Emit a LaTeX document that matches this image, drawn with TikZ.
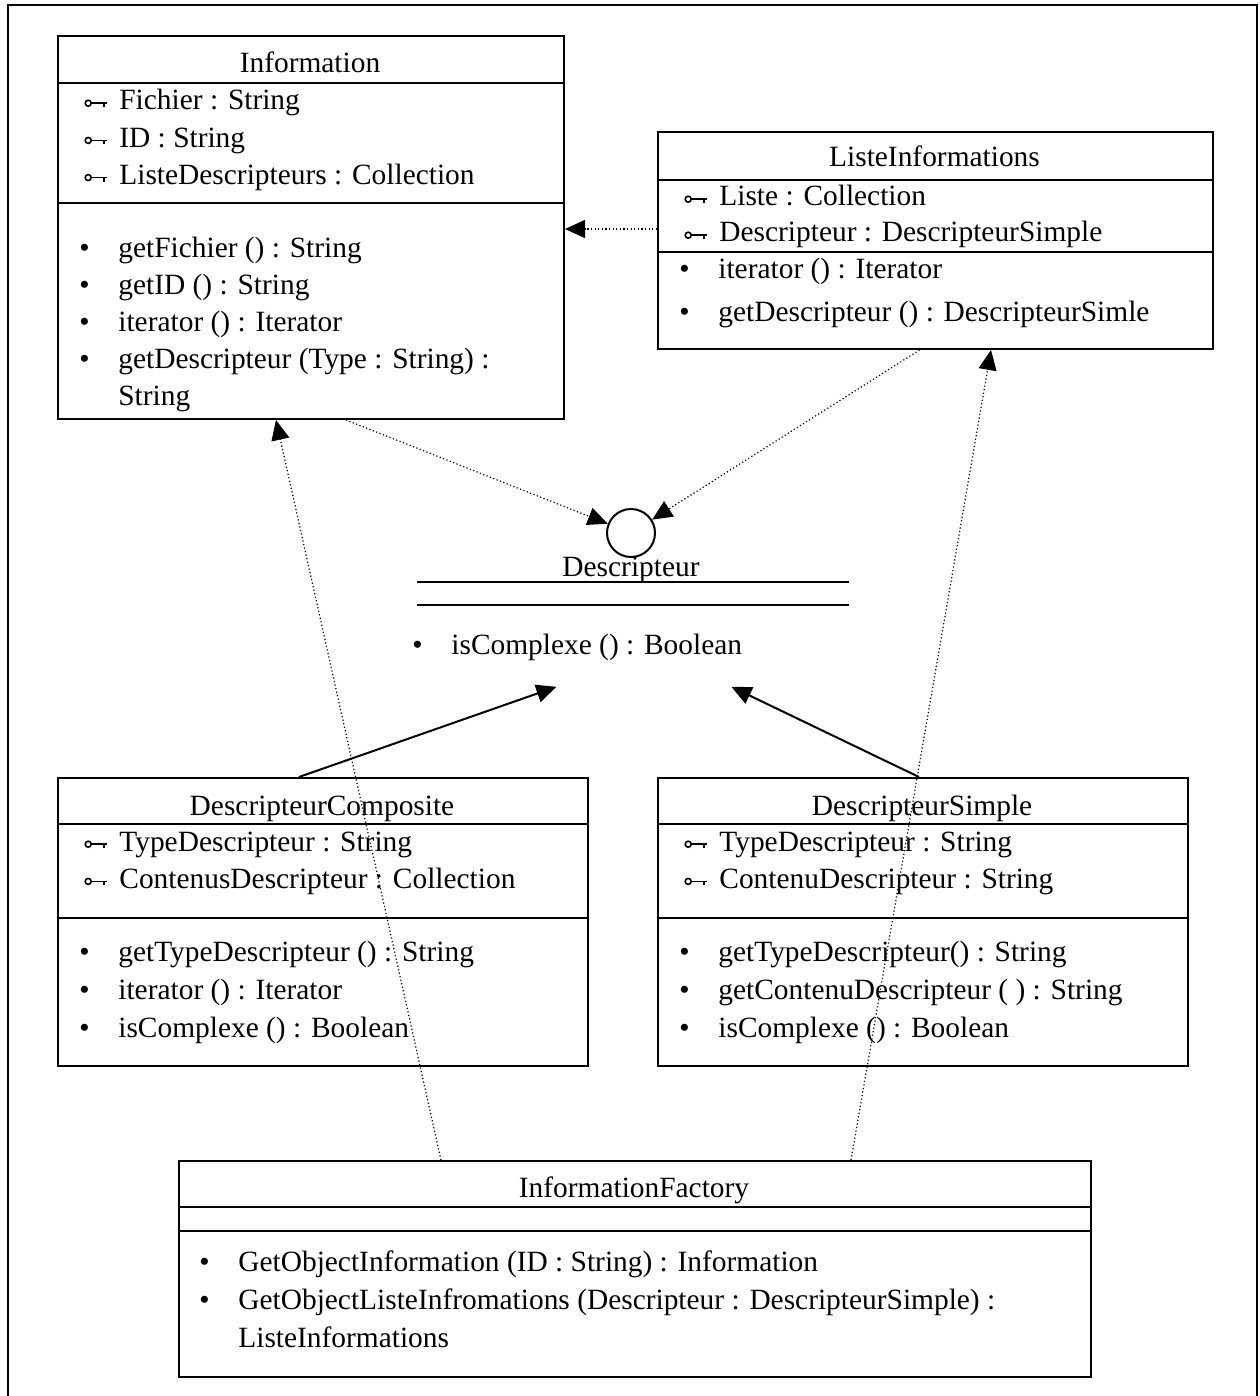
\documentclass[tikz,border=0pt]{standalone}
\usepackage{fontspec}
\setmainfont{Liberation Serif}
\usetikzlibrary{arrows.meta,positioning}
\newcommand{\keyicon}{\tikz[x=1pt,y=1pt,baseline=-3.4pt,line width=0.8pt]{%
  \draw (1.8,0) circle (1.5); \draw (3.3,0) -- (11,0) (9.8,0) -- (9.8,-2);}\hspace{6pt}}
\newcommand{\mth}[1]{\makebox[19.5pt][l]{\textbullet}#1}
\newcommand{\mcont}[1]{\hspace*{19.5pt}#1}

\begin{document}
\begin{tikzpicture}[x=0.5pt, y=-0.5pt,
  font=\fontsize{14.7}{18.6}\selectfont, >={Triangle[length=10pt,width=9pt]},
  cls/.style={draw, line width=1pt, anchor=north west, inner sep=0pt},
  sep/.style={line width=1pt},
  ttl/.style={inner sep=0pt, anchor=base},
  txt/.style={inner sep=0pt, anchor=base west, align=left},
  dep/.style={->, line width=0.6pt, dash pattern=on 0.6pt off 1.2pt},
  gen/.style={->, line width=1pt}]
\useasboundingbox (0,0) rectangle (1259,1396);
\draw[line width=1pt] (8,1396) |- (1257,5) -- (1257,1396);
% Information (text nodes are placed by the baseline of their last line)
\node[cls, minimum width=253pt, minimum height=191.5pt] (info) at (57,35) {};
\draw[sep] ([yshift=-24pt]info.north west) -- ([yshift=-24pt]info.north east);
\draw[sep] ([yshift=-84pt]info.north west) -- ([yshift=-84pt]info.north east);
\node[ttl] (infoT) at (310,73) {Information};
\node[txt] (infoA) at (84,184.4) {\keyicon Fichier : String\\\keyicon ID : String\\
  \keyicon ListeDescripteurs : Collection};
\node[txt] (infoM) at (79,405.8) {\mth{getFichier () : String}\\\mth{getID () : String}\\
  \mth{iterator () : Iterator}\\\mth{getDescripteur (Type : String) :}\\\mcont{String}};
% ListeInformations
\node[cls, minimum width=277.5pt, minimum height=108.5pt] (lst) at (657,131) {};
\draw[sep] ([yshift=-24.5pt]lst.north west) -- ([yshift=-24.5pt]lst.north east);
\draw[sep] ([yshift=-60.5pt]lst.north west) -- ([yshift=-60.5pt]lst.north east);
\node[ttl] (lstT) at (934.5,167) {ListeInformations};
\node[txt, font=\fontsize{14.7}{18}\selectfont] (lstA) at (684,242)
  {\keyicon Liste : Collection\\\keyicon Descripteur : DescripteurSimple};
\node[txt, font=\fontsize{14.7}{21}\selectfont] (lstM) at (679,321)
  {\mth{iterator () : Iterator}\\\mth{getDescripteur () : DescripteurSimle}};
% interface Descripteur
\node[draw, circle, line width=1pt, minimum size=24pt, inner sep=0pt] (iface) at (631,533) {};
\node[ttl] (ifaceT) at (631,576) {Descripteur};
\node[inner sep=0pt, anchor=north west, minimum width=215.5pt, minimum height=52pt] (descr) at (417,582) {};
\draw[sep] (descr.north west) -- (descr.north east);
\draw[sep] ([yshift=-11.5pt]descr.north west) -- ([yshift=-11.5pt]descr.north east);
\node[txt] (descrM) at (412,654) {\mth{isComplexe () : Boolean}};
% DescripteurComposite
\node[cls, minimum width=265pt, minimum height=144pt] (comp) at (57,777) {};
\draw[sep] ([yshift=-23.5pt]comp.north west) -- ([yshift=-23.5pt]comp.north east);
\draw[sep] ([yshift=-70.5pt]comp.north west) -- ([yshift=-70.5pt]comp.north east);
\node[ttl] (compT) at (322,815) {DescripteurComposite};
\node[txt] (compA) at (84,888.2) {\keyicon TypeDescripteur : String\\
  \keyicon ContenusDescripteur : Collection};
\node[txt, font=\fontsize{14.7}{19}\selectfont] (compM) at (79,1037)
  {\mth{getTypeDescripteur () : String}\\\mth{iterator () : Iterator}\\
  \mth{isComplexe () : Boolean}};
% DescripteurSimple
\node[cls, minimum width=265pt, minimum height=144pt] (simp) at (657,777) {};
\draw[sep] ([yshift=-23.5pt]simp.north west) -- ([yshift=-23.5pt]simp.north east);
\draw[sep] ([yshift=-70.5pt]simp.north west) -- ([yshift=-70.5pt]simp.north east);
\node[ttl] (simpT) at (922,815) {DescripteurSimple};
\node[txt] (simpA) at (684,888.2) {\keyicon TypeDescripteur : String\\
  \keyicon ContenuDescripteur : String};
\node[txt, font=\fontsize{14.7}{19}\selectfont] (simpM) at (679,1037)
  {\mth{getTypeDescripteur() : String}\\\mth{getContenuDescripteur ( ) : String}\\
  \mth{isComplexe () : Boolean}};
% InformationFactory
\node[cls, minimum width=456pt, minimum height=108pt] (fact) at (178,1160) {};
\draw[sep] ([yshift=-23.5pt]fact.north west) -- ([yshift=-23.5pt]fact.north east);
\draw[sep] ([yshift=-35.5pt]fact.north west) -- ([yshift=-35.5pt]fact.north east);
\node[ttl] (factT) at (634,1197) {InformationFactory};
\node[txt, font=\fontsize{14.7}{19}\selectfont] (factM) at (199,1347)
  {\mth{GetObjectInformation (ID : String) : Information}\\
  \mth{GetObjectListeInfromations (Descripteur : DescripteurSimple) :}\\
  \mcont{ListeInformations}};
% arrows
\draw[dep] ([yshift=5.75pt]lst.west) -- ([yshift=-0.75pt]info.east);
\draw[dep] ([xshift=17.5pt]info.south) -- (iface);
\draw[dep] ([xshift=-8pt]lst.south) -- (iface);
\draw[gen] ([xshift=-12pt]comp.north) -- ([xshift=-38.25pt]descr.south);
\draw[gen] ([xshift=-2pt]simp.north) -- ([xshift=49.25pt]descr.south);
\draw[dep] ([xshift=-97pt]fact.north) -- ([xshift=-17.5pt]info.south);
\draw[dep] ([xshift=108pt]fact.north) -- ([xshift=27.75pt]lst.south);
\end{tikzpicture}
\end{document}
